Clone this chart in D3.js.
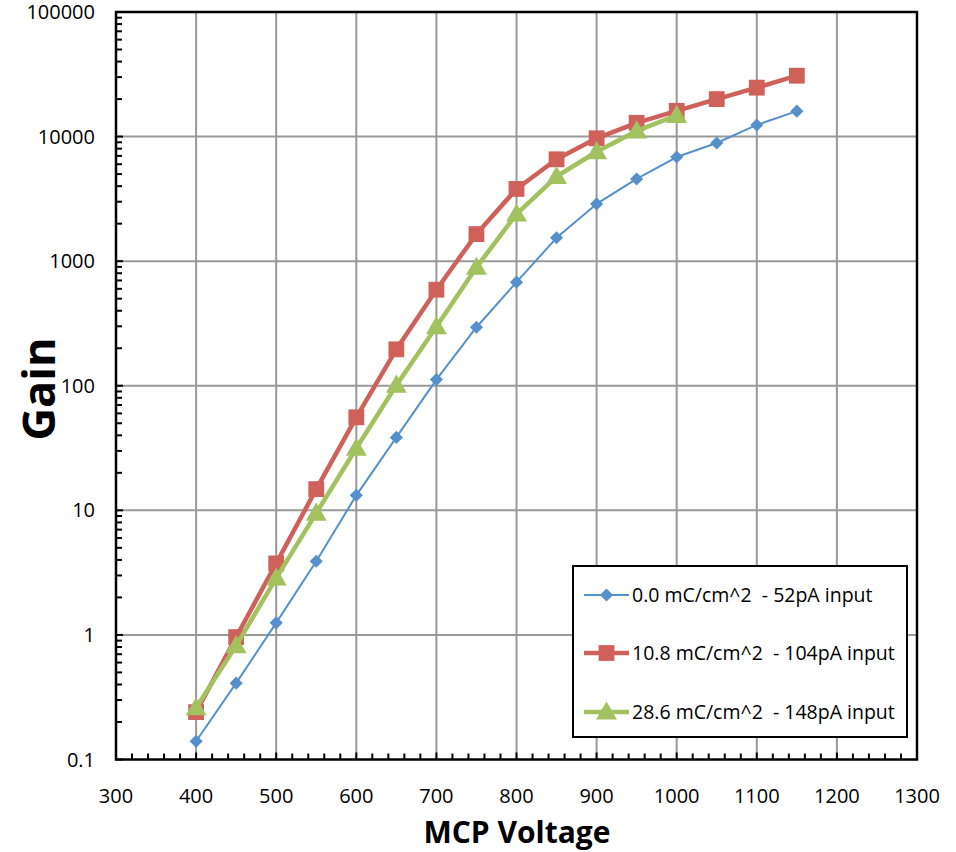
<!DOCTYPE html>
<html>
<head>
<meta charset="utf-8">
<script src="https://cdn.jsdelivr.net/npm/d3@7"></script>
<style>
  body { margin: 0; background: #fff; }
  svg { display: block; }
  text { font-family: "Open Sans", "Liberation Sans", sans-serif; fill: #000; }
</style>
</head>
<body>
<svg id="chart" width="956" height="852"></svg>
<script>
// MCP voltage settings (V)
const voltages = [400, 450, 500, 550, 600, 650, 700, 750, 800, 850, 900, 950, 1000, 1050, 1100, 1150];

// Gain measured at each voltage for three extracted-charge levels
const gainFresh = [0.14, 0.41, 1.25, 3.9, 13.2, 38.5, 112, 295, 678, 1540, 2880, 4570, 6850, 8880, 12400, 16000];
const gain108 = [0.24, 0.96, 3.75, 14.8, 55.8, 196, 590, 1650, 3800, 6570, 9690, 12900, 16100, 20000, 24700, 30800];
const gain286 = [0.26, 0.82, 2.86, 9.5, 31.5, 101, 298, 893, 2390, 4780, 7560, 11100, 14800];

const seriesNames = [
  "0.0 mC/cm^2  - 52pA input",
  "10.8 mC/cm^2  - 104pA input",
  "28.6 mC/cm^2  - 148pA input"
];

const xTicks = [300, 400, 500, 600, 700, 800, 900, 1000, 1100, 1200, 1300];
const yTicks = [0.1, 1, 10, 100, 1000, 10000, 100000];
const yTickLabels = ["0.1", "1", "10", "100", "1000", "10000", "100000"];

const svg = d3.select("#chart");
const plotLeft = 116, plotRight = 917, plotTop = 12, plotBottom = 759.5;

const x = d3.scaleLinear().domain([300, 1300]).range([plotLeft, plotRight]);
const y = d3.scaleLog().domain([0.1, 100000]).range([plotBottom, plotTop]);

// grid
const grid = svg.append("g").attr("stroke", "#999").attr("stroke-width", 2);
grid.selectAll("line.v").data(xTicks.slice(1, -1)).join("line")
  .attr("x1", d => x(d)).attr("x2", d => x(d)).attr("y1", plotTop).attr("y2", plotBottom);
grid.selectAll("line.h").data(yTicks.slice(1, -1)).join("line")
  .attr("x1", plotLeft).attr("x2", plotRight).attr("y1", d => y(d)).attr("y2", d => y(d));

// minor ticks
const xMinor = d3.range(300, 1301, 20).filter(v => v % 100 !== 0);
const yMinor = [];
for (let e = -1; e < 5; e++) for (let m = 2; m <= 9; m++) yMinor.push(m * Math.pow(10, e));

const ticks = svg.append("g").attr("stroke", "#000").attr("stroke-width", 2);
ticks.selectAll("line.xm").data(xMinor).join("line")
  .attr("x1", d => x(d)).attr("x2", d => x(d)).attr("y1", plotBottom).attr("y2", plotBottom - 6);
ticks.selectAll("line.xM").data(xTicks).join("line")
  .attr("x1", d => x(d)).attr("x2", d => x(d)).attr("y1", plotBottom).attr("y2", plotBottom - 7);
ticks.selectAll("line.ym").data(yMinor).join("line")
  .attr("x1", plotLeft).attr("x2", plotLeft + 6).attr("y1", d => y(d)).attr("y2", d => y(d));
ticks.selectAll("line.yM").data(yTicks).join("line")
  .attr("x1", plotLeft).attr("x2", plotLeft + 7).attr("y1", d => y(d)).attr("y2", d => y(d));

// frame
svg.append("rect").attr("x", plotLeft).attr("y", plotTop)
  .attr("width", plotRight - plotLeft).attr("height", plotBottom - plotTop)
  .attr("fill", "none").attr("stroke", "#000").attr("stroke-width", 2.5);

// tick labels
svg.append("g").selectAll("text").data(xTicks).join("text")
  .attr("x", d => x(d)).attr("y", 803)
  .attr("text-anchor", "middle").attr("font-size", 20)
  .text(d => d);
svg.append("g").selectAll("text").data(yTicks).join("text")
  .attr("x", 95).attr("y", d => y(d) + 7)
  .attr("text-anchor", "end").attr("font-size", 20)
  .text((d, i) => yTickLabels[i]);

// axis titles
svg.append("text").attr("x", 517).attr("y", 843)
  .attr("text-anchor", "middle").attr("font-size", 30).attr("font-weight", "bold")
  .text("MCP Voltage");
svg.append("text").attr("transform", "translate(55,389) rotate(-90)")
  .attr("text-anchor", "middle").attr("font-size", 45).attr("font-weight", "bold")
  .text("Gain");

// series
const series = [
  { name: seriesNames[0], values: gainFresh, color: "#5690CC", width: 2, shape: "diamond" },
  { name: seriesNames[1], values: gain108, color: "#CF615A", width: 4.5, shape: "square" },
  { name: seriesNames[2], values: gain286, color: "#A2C15F", width: 4.5, shape: "triangle" }
];

const symbolFor = {
  diamond: d3.symbol().type(d3.symbolDiamond2).size(110),
  square: d3.symbol().type(d3.symbolSquare).size(250),
  triangle: d3.symbol().type(d3.symbolTriangle).size(190)
};

const line = d3.line().x(d => x(d[0])).y(d => y(d[1]));

series.forEach(s => {
  const pts = s.values.map((v, i) => [voltages[i], v]);
  const g = svg.append("g");
  g.append("path").datum(pts).attr("d", line)
    .attr("fill", "none").attr("stroke", s.color).attr("stroke-width", s.width)
    .attr("stroke-linejoin", "round");
  g.selectAll("path.m").data(pts).join("path")
    .attr("d", symbolFor[s.shape])
    .attr("transform", d => `translate(${x(d[0])},${y(d[1]) + (s.shape === "triangle" ? 1.5 : 0)})`)
    .attr("fill", s.color);
});

// legend
const lg = svg.append("g");
lg.append("rect").attr("x", 573).attr("y", 566).attr("width", 334).attr("height", 171)
  .attr("fill", "#fff").attr("stroke", "#000").attr("stroke-width", 2);
const rowY = [595, 653, 712];
series.forEach((s, i) => {
  lg.append("line").attr("x1", 584).attr("x2", 629).attr("y1", rowY[i]).attr("y2", rowY[i])
    .attr("stroke", s.color).attr("stroke-width", s.width);
  lg.append("path").attr("d", symbolFor[s.shape])
    .attr("transform", `translate(606.5,${rowY[i] + (s.shape === "triangle" ? 1.5 : 0)})`)
    .attr("fill", s.color);
  lg.append("text").attr("x", 632).attr("y", rowY[i] + 7).attr("font-size", 19.5)
    .attr("xml:space", "preserve").style("white-space", "pre")
    .text(s.name);
});
</script>
</body>
</html>
